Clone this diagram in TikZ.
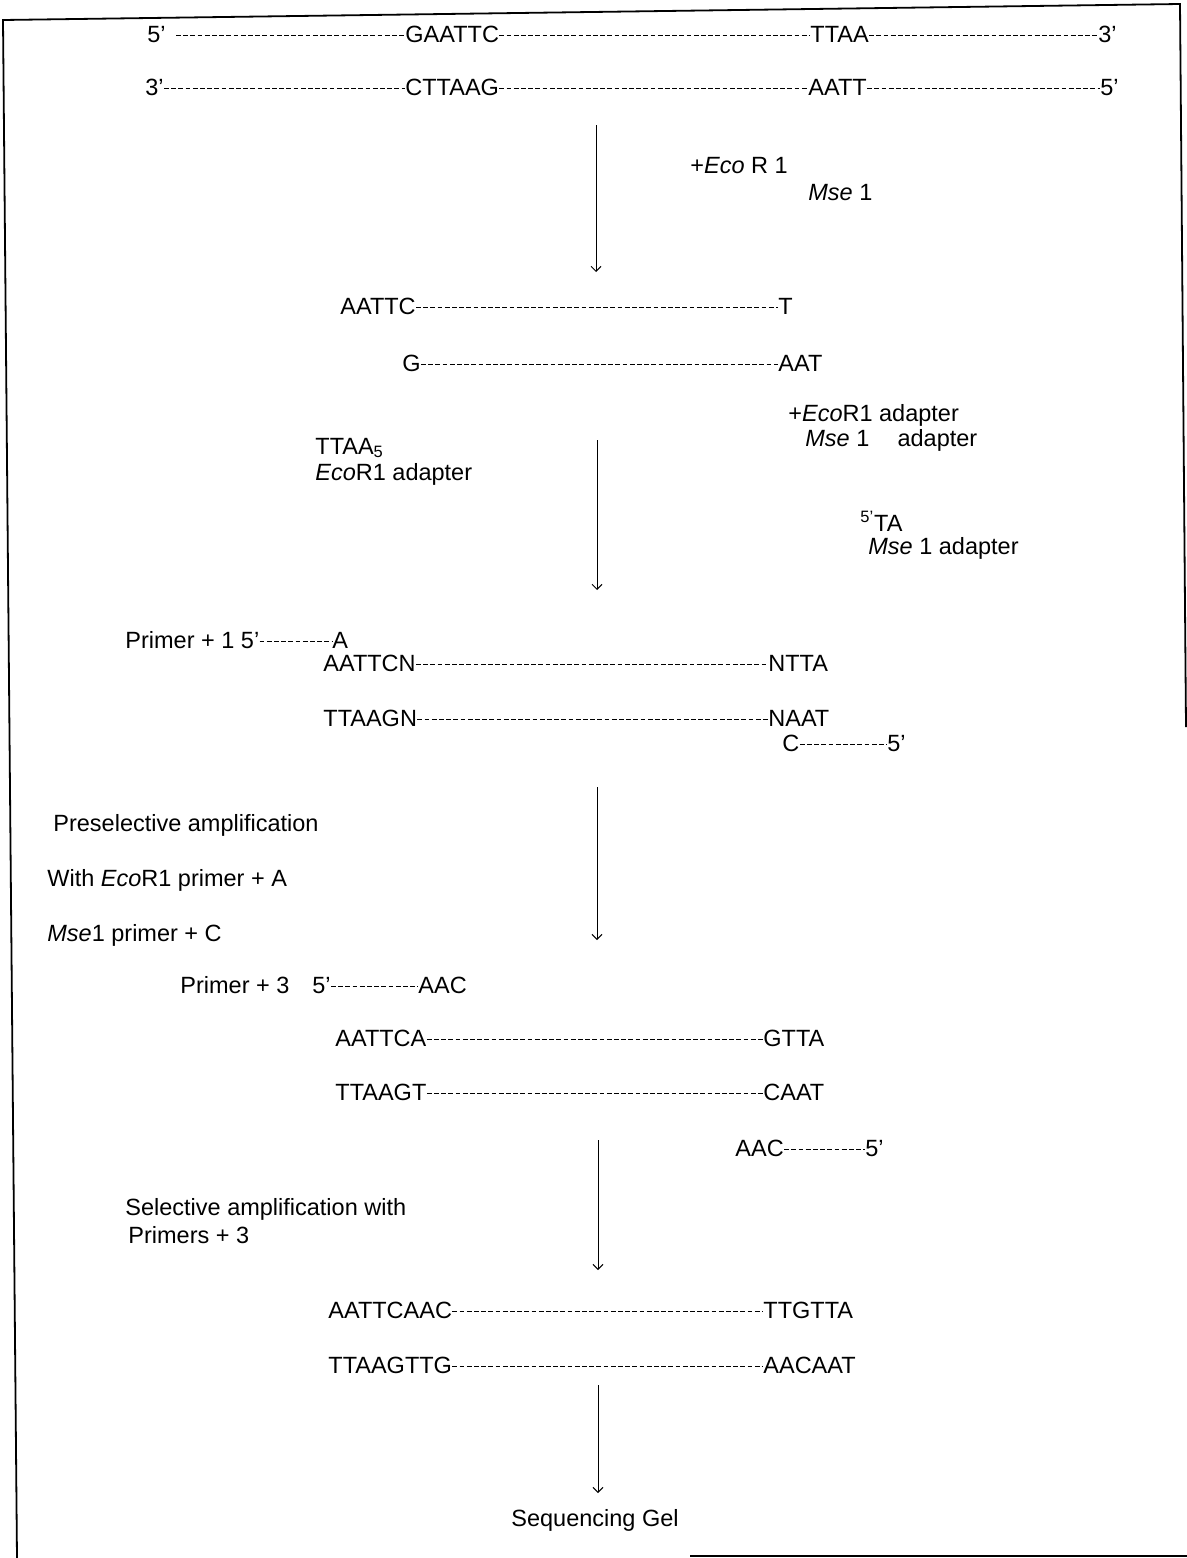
\documentclass[tikz,border=0pt]{standalone}
\usepackage{fontspec}
\setmainfont{Liberation Sans}
\usetikzlibrary{arrows.meta}
\begin{document}
\begin{tikzpicture}[x=0.5pt,y=-0.5pt,
  every node/.style={font=\fontsize{11.75}{14}\selectfont, inner sep=0pt, anchor=base west},
  seq/.style={text height=6.4pt, text depth=0pt},
  strand/.style={line width=0.7pt, dash pattern=on 2.4pt off 1.2pt},
  flow/.style={line width=0.5pt, -{Straight Barb[length=2.5pt,width=5pt]}},
  frame/.style={line width=0.9pt}]
\useasboundingbox (0,0) rectangle (1187,1558);
% frame
\draw[frame] (17,1558) -- (3,20) -- (1180,4) -- (1186,727);
\draw[frame] (690,1556) -- (1187,1556);
% row 1
\node[seq] (r1a) at (147,42) {5'};
\node[seq] (r1b) at (405,42) {GAATTC};
\node[seq] (r1c) at (810,42) {TTAA};
\node[seq] (r1d) at (1098,42) {3'};
\draw[strand] ([xshift=5pt]r1a.east) -- (r1b.west) (r1b.east) -- (r1c.west) (r1c.east) -- (r1d.west);
% row 2
\node[seq] (r2a) at (145,95) {3'};
\node[seq] (r2b) at (405,95) {CTTAAG};
\node[seq] (r2c) at (808,95) {AATT};
\node[seq] (r2d) at (1100,95) {5'};
\draw[strand] (r2a.east) -- (r2b.west) (r2b.east) -- (r2c.west) (r2c.east) -- (r2d.west);
% arrow 1
\coordinate (a1s) at (596,125);
\coordinate (a1e) at (596,272);
\draw[flow] (a1s) -- (a1e);
\node (enz1) at (690,173) {+\textit{Eco} R 1};
\node (enz2) at (808,200) {\textit{Mse} 1};
% rows 3-4
\node[seq] (r3a) at (340,314) {AATTC};
\node[seq] (r3b) at (778,314) {T};
\draw[strand] (r3a.east) -- (r3b.west);
\node[seq] (r4a) at (402,371) {G};
\node[seq] (r4b) at (778,371) {AAT};
\draw[strand] (r4a.east) -- (r4b.west);
% adapters
\node (ad1) at (788,421) {+\textit{Eco}R1 adapter};
\node (ad2) at (805,446) {\textit{Mse} 1\hspace{1.2em}adapter};
\node (ad3) at (315,454) {TTAA\textsubscript{5}};
\node (ad4) at (315,480) {\textit{Eco}R1 adapter};
\coordinate (a2s) at (597,440);
\coordinate (a2e) at (597,590);
\draw[flow] (a2s) -- (a2e);
\node (ad5) at (860,531) {\textsuperscript{5'}TA};
\node (ad6) at (868,554) {\textit{Mse} 1 adapter};
% primer +1
\node[seq] (p1a) at (125,648) {Primer + 1 5'};
\node[seq] (p1b) at (332,648) {A};
\draw[strand] (p1a.east) -- (p1b.west);
\node[seq] (r5a) at (323,671) {AATTCN};
\node[seq] (r5b) at (768,671) {NTTA};
\draw[strand] (r5a.east) -- (r5b.west);
\node[seq] (r6a) at (323,726) {TTAAGN};
\node[seq] (r6b) at (768,726) {NAAT};
\draw[strand] (r6a.east) -- (r6b.west);
\node[seq] (p2a) at (782,751) {C};
\node[seq] (p2b) at (887,751) {5'};
\draw[strand] (p2a.east) -- (p2b.west);
% arrow 3
\coordinate (a3s) at (597,787);
\coordinate (a3e) at (597,940);
\draw[flow] (a3s) -- (a3e);
\node (pre1) at (53,831) {Preselective amplification};
\node (pre2) at (47,886) {With \textit{Eco}R1 primer + A};
\node (pre3) at (47,941) {\textit{Mse}1 primer + C};
% primer +3
\node (p3l) at (180,993) {Primer + 3};
\node[seq] (p3a) at (312,993) {5'};
\node[seq] (p3b) at (418,993) {AAC};
\draw[strand] (p3a.east) -- (p3b.west);
\node[seq] (r7a) at (335,1046) {AATTCA};
\node[seq] (r7b) at (763,1046) {GTTA};
\draw[strand] (r7a.east) -- (r7b.west);
\node[seq] (r8a) at (335,1100) {TTAAGT};
\node[seq] (r8b) at (763,1100) {CAAT};
\draw[strand] (r8a.east) -- (r8b.west);
% arrow 4
\coordinate (a4s) at (598,1140);
\coordinate (a4e) at (598,1270);
\draw[flow] (a4s) -- (a4e);
\node[seq] (p4a) at (735,1156) {AAC};
\node[seq] (p4b) at (865,1156) {5'};
\draw[strand] (p4a.east) -- (p4b.west);
\node (sel1) at (125,1215) {Selective amplification with};
\node (sel2) at (128,1243) {Primers + 3};
% final rows
\node[seq] (r9a) at (328,1318) {AATTCAAC};
\node[seq] (r9b) at (763,1318) {TTGTTA};
\draw[strand] (r9a.east) -- (r9b.west);
\node[seq] (r10a) at (328,1373) {TTAAGTTG};
\node[seq] (r10b) at (763,1373) {AACAAT};
\draw[strand] (r10a.east) -- (r10b.west);
% arrow 5
\coordinate (a5s) at (598,1385);
\coordinate (a5e) at (598,1493);
\draw[flow] (a5s) -- (a5e);
\node (gel) at (511,1526) {Sequencing Gel};
\end{tikzpicture}
\end{document}
